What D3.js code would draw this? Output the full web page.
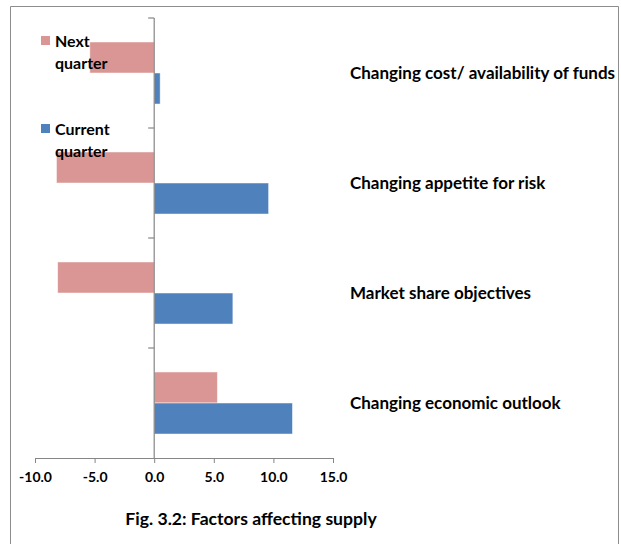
<!DOCTYPE html>
<html>
<head>
<meta charset="utf-8">
<script src="https://cdn.jsdelivr.net/npm/d3@7/dist/d3.min.js"></script>
<style>
  html, body { margin: 0; padding: 0; background: #fff; }
  svg { display: block; }
  text { font-family: Lato, "Open Sans", sans-serif; fill: #000; }
</style>
</head>
<body>
<svg id="chart" width="621" height="544"></svg>
<script>
// Factors affecting supply: net balances, current vs next quarter
const categories = [
  "Changing cost/ availability of funds",
  "Changing appetite for risk",
  "Market share objectives",
  "Changing economic outlook"
];
const seriesNames = ["Next quarter", "Current quarter"];
const nextQuarter = [-5.4, -8.2, -8.1, 5.3];
const currentQuarter = [0.5, 9.6, 6.6, 11.6];
const xTicks = [-10, -5, 0, 5, 10, 15];
const title = "Fig. 3.2: Factors affecting supply";

const colors = { "Next quarter": "#d99694", "Current quarter": "#4f81bd" };
const axisColor = "#868686";

const svg = d3.select("#chart");

// outer frame (open at the bottom)
svg.append("path")
  .attr("d", "M10.5,544 V6.5 H618.5 V544")
  .attr("fill", "none")
  .attr("stroke", "#8c8c8c")
  .attr("stroke-width", 1);

const x = d3.scaleLinear().domain([-10, 15]).range([35, 333]);
const y = d3.scaleBand().domain(categories).range([18, 458])
  .paddingInner(0.436).paddingOuter(0.218);
const ySub = d3.scaleBand().domain(seriesNames).range([0, y.bandwidth()]);

const rows = categories.map((c, i) => ({
  cat: c,
  values: [
    { key: "Next quarter", v: nextQuarter[i] },
    { key: "Current quarter", v: currentQuarter[i] }
  ]
}));

// bars
const g = svg.append("g");
g.selectAll("g.row").data(rows).join("g")
  .attr("class", "row")
  .attr("transform", d => `translate(0,${y(d.cat)})`)
  .selectAll("rect").data(d => d.values).join("rect")
  .attr("x", d => x(Math.min(0, d.v)))
  .attr("width", d => Math.abs(x(d.v) - x(0)))
  .attr("y", d => ySub(d.key))
  .attr("height", ySub.bandwidth())
  .attr("fill", d => colors[d.key])
  .attr("stroke", "#ffffff")
  .attr("stroke-opacity", 0.6)
  .attr("stroke-width", 0.8);

// x axis (plain hyphen for negatives)
const fmt = d => d3.format(".1f")(d).replace("\u2212", "-");
const xAxis = svg.append("g")
  .attr("transform", `translate(0,${458})`)
  .call(d3.axisBottom(x).tickValues(xTicks).tickFormat(fmt)
    .tickSize(5).tickSizeOuter(0).tickPadding(9));
xAxis.select(".domain").attr("stroke", axisColor);
xAxis.selectAll(".tick line").attr("stroke", axisColor);
xAxis.selectAll(".tick text")
  .style("font-family", "Lato, sans-serif")
  .attr("font-size", 14).attr("font-weight", "bold").attr("fill", "#000");

// vertical category axis at zero with tick marks at band boundaries
const bounds = d3.range(categories.length + 1).map(i => 18 + i * y.step());
svg.append("line")
  .attr("x1", x(0)).attr("x2", x(0))
  .attr("y1", 18).attr("y2", 458)
  .attr("stroke", axisColor).attr("stroke-width", 1.2);
svg.selectAll("line.ytick").data(bounds.slice(0, -1)).join("line")
  .attr("class", "ytick")
  .attr("x1", x(0) - 6).attr("x2", x(0))
  .attr("y1", d => d).attr("y2", d => d)
  .attr("stroke", axisColor).attr("stroke-width", 1.2);

// category labels on the right
svg.selectAll("text.cat").data(categories).join("text")
  .attr("class", "cat")
  .attr("x", 350)
  .attr("y", d => y(d) + y.bandwidth() / 2)
  .attr("dy", "0.35em")
  .attr("font-size", 17)
  .attr("font-weight", "bold")
  .text(d => d);

// legend
const legend = [
  { key: "Next quarter", y: 36, lines: ["Next", "quarter"] },
  { key: "Current quarter", y: 124, lines: ["Current", "quarter"] }
];
const lg = svg.selectAll("g.legend").data(legend).join("g").attr("class", "legend");
lg.append("rect")
  .attr("x", 41).attr("y", d => d.y)
  .attr("width", 9).attr("height", 9)
  .attr("fill", d => colors[d.key]);
lg.each(function (d) {
  d3.select(this).selectAll("text").data(d.lines).join("text")
    .attr("x", 55)
    .attr("y", (t, i) => d.y + 11 + i * 22)
    .attr("font-size", 16)
    .attr("font-weight", "bold")
    .text(t => t);
});

// caption
svg.append("text")
  .attr("x", 251).attr("y", 525)
  .attr("text-anchor", "middle")
  .attr("font-size", 17.6)
  .attr("font-weight", "bold")
  .text(title);
</script>
</body>
</html>
